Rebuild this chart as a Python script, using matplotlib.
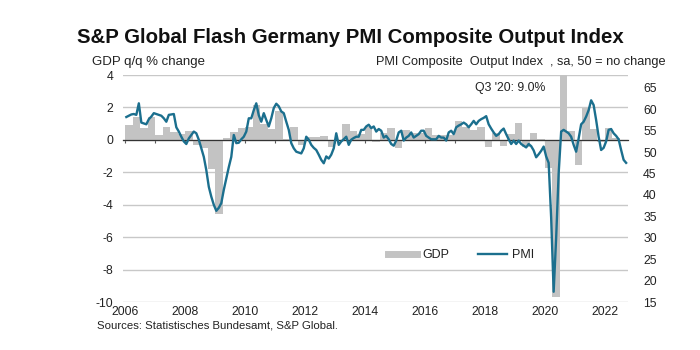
import numpy as np
import matplotlib
matplotlib.use("Agg")
import matplotlib.pyplot as plt
from matplotlib.lines import Line2D

plt.rcParams["font.family"] = "Liberation Sans"
plt.rcParams["axes.unicode_minus"] = False

# GDP q/q % change, quarterly 2006Q1 - 2022Q2
gdp = [0.93, 1.4, 0.72, 1.4,
       0.3, 0.8, 0.5, 0.35,
       0.55, -0.3, -0.5, -1.8,
       -4.6, 0.1, 0.5, 0.72,
       0.8, 2.15, 1.0, 0.7,
       1.8, 0.05, 0.82, -0.3,
       0.15, 0.15, 0.25, -0.45,
       -0.05, 1.0, 0.55, 0.35,
       0.8, -0.1, 0.4, 0.72,
       -0.5, 0.6, 0.4, 0.4,
       0.75, 0.3, 0.3, 0.3,
       1.15, 0.8, 0.62, 0.8,
       -0.45, 0.4, -0.4, 0.35,
       1.03, -0.45, 0.4, 0.05,
       -1.75, -9.7, 9.0, 0.55,
       -1.55, 1.96, 0.66, -0.1,
       0.72, 0.1]

# PMI composite output index, monthly Jan 2006 - Sep 2022
pmi = [58.2, 58.5, 58.8, 58.9, 58.7, 61.4, 56.9, 56.7, 56.5, 57.7, 58.3, 59.1,
       58.9, 58.7, 58.5, 57.9, 57.1, 58.7, 58.8, 58.9, 55.8, 54.8, 53.6, 52.5,
       51.9, 53.2, 54.0, 54.8, 54.4, 52.9, 50.9, 48.9, 45.8, 41.9, 39.6, 37.7,
       36.3, 37.0, 38.1, 41.2, 43.9, 46.5, 48.9, 54.0, 52.1, 52.2, 53.0, 53.6,
       54.8, 57.9, 57.9, 59.8, 61.4, 58.6, 57.1, 59.1, 57.5, 56.0, 57.9, 60.3,
       61.3, 60.7, 59.5, 59.1, 57.1, 55.2, 52.1, 50.9, 50.1, 49.9, 49.7, 50.9,
       53.6, 52.9, 51.7, 51.0, 50.5, 49.4, 48.2, 47.4, 49.0, 48.5, 49.4, 50.9,
       54.4, 51.7, 52.5, 53.0, 53.6, 51.7, 52.9, 53.3, 53.6, 53.6, 55.2, 55.2,
       56.0, 56.4, 55.6, 56.0, 54.8, 55.4, 55.0, 53.4, 53.8, 53.0, 51.9, 51.5,
       52.7, 54.6, 55.0, 52.7, 53.4, 53.8, 54.6, 53.4, 53.8, 54.2, 55.0, 55.0,
       53.8, 53.4, 53.0, 53.0, 53.0, 53.8, 53.4, 53.4, 52.7, 54.6, 55.0, 54.2,
       55.8, 56.2, 56.5, 56.9, 56.5, 55.8, 56.5, 57.3, 56.5, 57.3, 57.7, 58.0,
       58.4, 56.5, 55.5, 54.6, 53.8, 54.2, 55.0, 55.5, 54.2, 53.0, 51.9, 52.7,
       51.9, 52.7, 51.9, 51.5, 51.1, 51.9, 51.4, 50.4, 48.8, 49.5, 50.3, 51.3,
       49.0, 47.5, 34.7, 17.4, 30.0, 45.0, 54.8, 55.2, 54.8, 54.4, 53.6, 51.7,
       50.1, 53.2, 56.5, 57.1, 58.3, 59.8, 62.1, 61.0, 57.5, 53.6, 50.5, 51.0,
       52.5, 55.2, 55.4, 54.4, 53.8, 53.0, 50.5, 48.2, 47.5]

gdp_x = 2006 + (np.arange(len(gdp)) + 0.5) / 4
pmi_x = 2006 + (np.arange(len(pmi)) + 0.5) / 12

bar_color = "#c3c3c3"
line_color = "#1b6f8e"
text_color = "#222222"

fig = plt.figure(figsize=(7, 3.5), dpi=100)
ax = fig.add_axes([0.1757, 0.137, 0.7214, 0.6486])

ax.bar(gdp_x, gdp, width=0.25, color=bar_color, linewidth=0, zorder=2)
ax.set_xlim(2005.93, 2022.77)
ax.set_ylim(-10, 4)
ax.set_yticks(range(-10, 5, 2))
ax.grid(axis="y", color="#c8c8c8", linewidth=1)
ax.set_axisbelow(True)
for s in ["left", "right", "top"]:
    ax.spines[s].set_visible(False)
ax.spines["bottom"].set_position(("data", 0))
ax.spines["bottom"].set_color("#333333")
ax.spines["bottom"].set_linewidth(0.9)
ax.spines["bottom"].set_zorder(3)
ax.set_xticks(range(2006, 2023))
ax.tick_params(axis="x", labelbottom=False, length=2.5, width=0.8, color="#555555")
ax.tick_params(axis="y", length=0, pad=7, labelsize=8.8, labelcolor=text_color)

# year labels along the bottom
sec = ax.secondary_xaxis(0)
sec.set_xticks(range(2006, 2023, 2))
sec.tick_params(length=0, pad=3, labelsize=8.8, labelcolor=text_color)
sec.spines["bottom"].set_visible(False)

ax2 = ax.twinx()
ax2.plot(pmi_x, pmi, color=line_color, linewidth=1.7, zorder=4)
ax2.set_ylim(15, 68)
ax2.set_yticks(range(15, 66, 5))
for s in ax2.spines.values():
    s.set_visible(False)
ax2.tick_params(axis="y", length=0, pad=11, labelsize=8.8, labelcolor=text_color)

ax.text(2020.0, 3.2, "Q3 '20: 9.0%", ha="right", va="center",
        fontsize=8.8, color=text_color)

handles = [Line2D([], [], color=bar_color, linewidth=5),
           Line2D([], [], color=line_color, linewidth=1.7)]
fig.legend(handles, ["GDP", "PMI"], loc="center left",
           bbox_to_anchor=(0.545, 0.271), ncol=2, frameon=False,
           handlelength=2.3, handletextpad=0.45, columnspacing=2.3,
           borderpad=0, fontsize=9, labelcolor=text_color)

fig.text(0.5, 0.893, "S&P Global Flash Germany PMI Composite Output Index",
         ha="center", va="center", fontsize=14.7, fontweight="bold", color="#111111")
fig.text(0.131, 0.823, "GDP q/q % change", ha="left", va="center",
         fontsize=9.5, color=text_color)
fig.text(0.951, 0.823, "PMI Composite  Output Index  , sa, 50 = no change",
         ha="right", va="center", fontsize=9.2, color=text_color)
fig.text(0.139, 0.071, "Sources: Statistisches Bundesamt, S&P Global.",
         ha="left", va="center", fontsize=8.2, color=text_color)

fig.savefig("out.png", dpi=100)
